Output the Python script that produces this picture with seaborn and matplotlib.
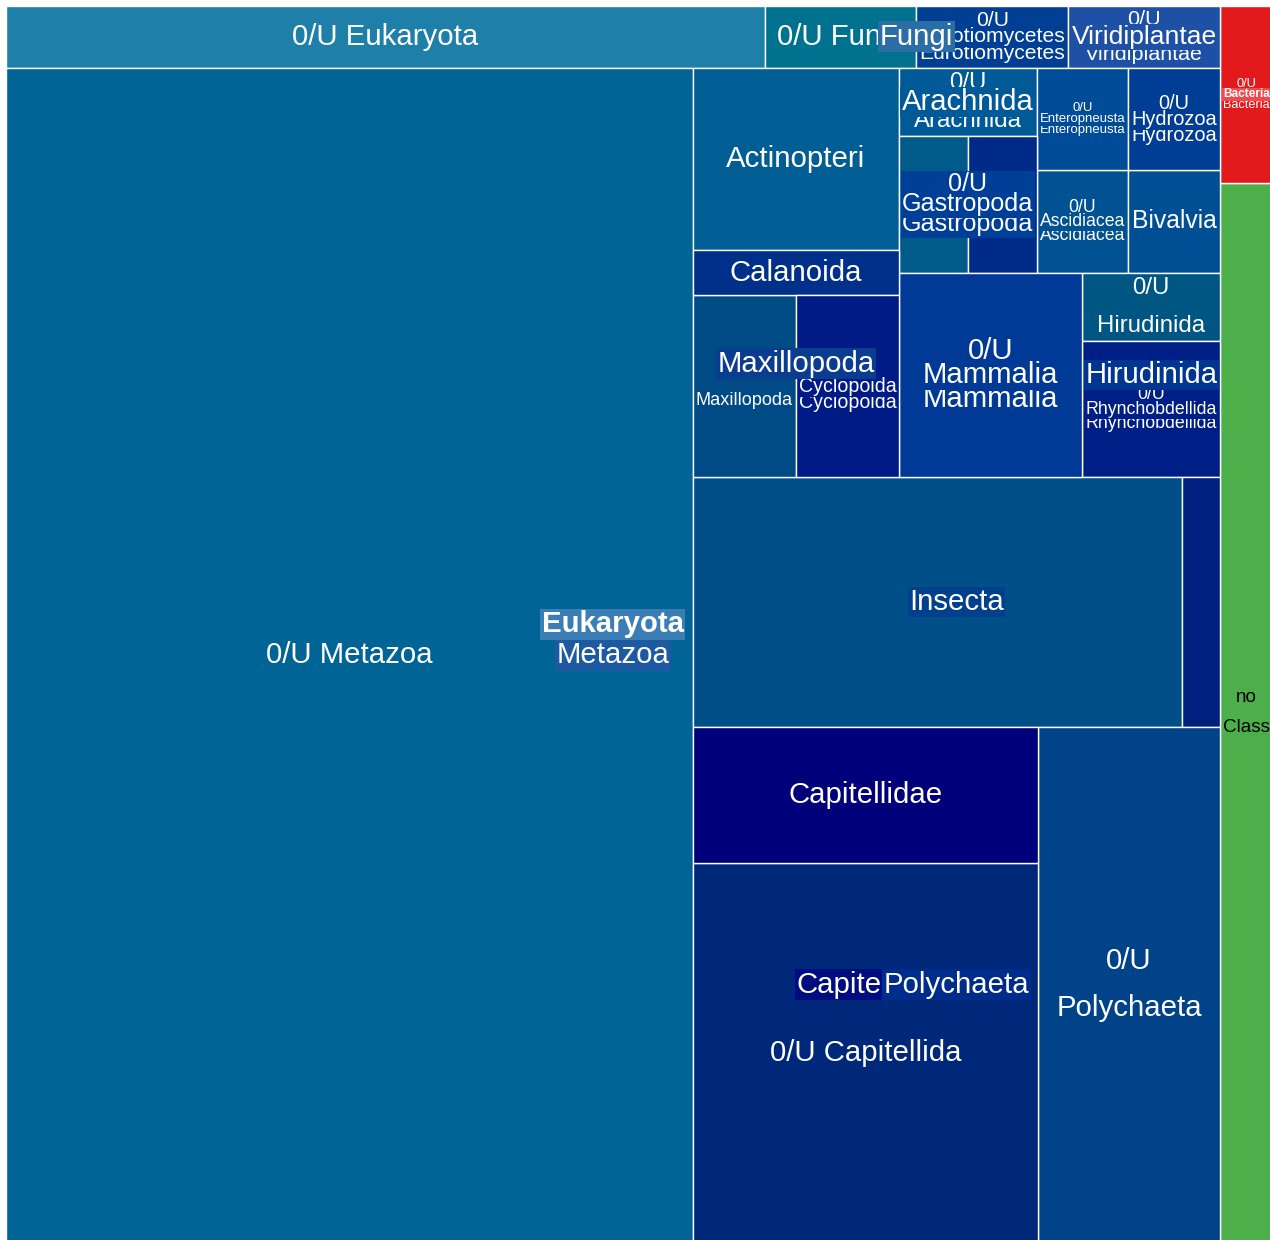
import matplotlib
matplotlib.use("Agg")
import matplotlib.pyplot as plt
import seaborn as sns
from matplotlib.patches import Rectangle
from matplotlib.font_manager import FontProperties
from matplotlib.colors import to_rgb

sns.set_theme(style="white")
plt.rcParams["font.family"] = ["Liberation Sans", "DejaVu Sans"]

# taxonomy tree, plotly style: ids / labels / parents / counts on leaves
ids = ["Eukaryota", "Bacteria", "no Class", "0/U Bacteria",
       "0/U Eukaryota", "Fungi", "Metazoa", "Viridiplantae",
       "0/U Fungi", "Eurotiomycetes", "0/U Eurotiomycetes", "0/U Viridiplantae",
       "0/U Metazoa", "Actinopteri", "Arachnida", "0/U Arachnida",
       "Ascidiacea", "0/U Ascidiacea", "Bivalvia", "Enteropneusta", "0/U Enteropneusta",
       "Gastropoda", "0/U Gastropoda", "Gastropoda-1", "Gastropoda-2",
       "Hirudinida", "0/U Hirudinida", "Rhynchobdellida", "0/U Rhynchobdellida",
       "Hydrozoa", "0/U Hydrozoa", "Insecta", "Insecta-1", "Insecta-2",
       "Mammalia", "0/U Mammalia", "Maxillopoda", "0/U Maxillopoda", "Calanoida",
       "Cyclopoida", "0/U Cyclopoida", "Polychaeta", "0/U Polychaeta",
       "Capitellida", "0/U Capitellida", "Capitellidae"]
labels = ["Eukaryota", "Bacteria", "no Class", "0/U Bacteria",
          "0/U Eukaryota", "Fungi", "Metazoa", "Viridiplantae",
          "0/U Fungi", "Eurotiomycetes", "0/U Eurotiomycetes", "0/U Viridiplantae",
          "0/U Metazoa", "Actinopteri", "Arachnida", "0/U Arachnida",
          "Ascidiacea", "0/U Ascidiacea", "Bivalvia", "Enteropneusta", "0/U Enteropneusta",
          "Gastropoda", "0/U Gastropoda", "", "",
          "Hirudinida", "0/U Hirudinida", "Rhynchobdellida", "0/U Rhynchobdellida",
          "Hydrozoa", "0/U Hydrozoa", "Insecta", "", "",
          "Mammalia", "0/U Mammalia", "Maxillopoda", "0/U Maxillopoda", "Calanoida",
          "Cyclopoida", "0/U Cyclopoida", "Polychaeta", "0/U Polychaeta",
          "Capitellida", "0/U Capitellida", "Capitellidae"]
parents = ["", "", "", "Bacteria",
           "Eukaryota", "Eukaryota", "Eukaryota", "Eukaryota",
           "Fungi", "Fungi", "Eurotiomycetes", "Viridiplantae",
           "Metazoa", "Metazoa", "Metazoa", "Arachnida",
           "Metazoa", "Ascidiacea", "Metazoa", "Metazoa", "Enteropneusta",
           "Metazoa", "Gastropoda", "0/U Gastropoda", "0/U Gastropoda",
           "Metazoa", "Hirudinida", "Hirudinida", "Rhynchobdellida",
           "Metazoa", "Hydrozoa", "Metazoa", "Insecta", "Insecta",
           "Metazoa", "Mammalia", "Metazoa", "Maxillopoda", "Maxillopoda",
           "Maxillopoda", "Cyclopoida", "Metazoa", "Polychaeta",
           "Polychaeta", "Capitellida", "Capitellida"]
values = [0, 0, 6, 1,
          5, 0, 0, 0,
          1, 0, 1, 1,
          86, 4, 0, 1,
          0, 1, 1, 0, 1,
          0, 0, 1, 1,
          0, 1, 0, 2,
          0, 1, 0, 13, 1,
          0, 4, 0, 2, 1,
          0, 2, 0, 10,
          0, 14, 5]

colors = {
    "Eukaryota": "#3b7eb6", "Bacteria": "#f0494b", "no Class": "#4daf4a",
    "0/U Bacteria": "#e31a1c", "0/U Eukaryota": "#1e7fa8",
    "Fungi": "#2b6ea6", "Metazoa": "#1d5aa2", "Viridiplantae": "#1e50a6",
    "0/U Fungi": "#007290", "Eurotiomycetes": "#003f94", "0/U Eurotiomycetes": "#003f94",
    "0/U Viridiplantae": "#1e50a6", "0/U Metazoa": "#006496", "Actinopteri": "#005e94",
    "Arachnida": "#005a98", "0/U Arachnida": "#005a98",
    "Ascidiacea": "#005292", "0/U Ascidiacea": "#005292", "Bivalvia": "#004f95",
    "Enteropneusta": "#004c98", "0/U Enteropneusta": "#004c98",
    "Gastropoda": "#003f98", "0/U Gastropoda": "#003f98",
    "Gastropoda-1": "#005a8a", "Gastropoda-2": "#002a88",
    "Hirudinida": "#00368f", "0/U Hirudinida": "#005682",
    "Rhynchobdellida": "#001f86", "0/U Rhynchobdellida": "#001f86",
    "Hydrozoa": "#003d95", "0/U Hydrozoa": "#003d95",
    "Insecta": "#00408c", "Insecta-1": "#004f88", "Insecta-2": "#002080",
    "Mammalia": "#003a96", "0/U Mammalia": "#003a96",
    "Maxillopoda": "#0a3d90", "0/U Maxillopoda": "#004a86", "Calanoida": "#00308a",
    "Cyclopoida": "#001a86", "0/U Cyclopoida": "#001a86",
    "Polychaeta": "#002c8c", "0/U Polychaeta": "#004388",
    "Capitellida": "#000d80", "0/U Capitellida": "#00287a", "Capitellidae": "#00007a",
}

# --- tree helpers
kids = {}
for i, p in zip(ids, parents):
    kids.setdefault(p, []).append(i)
val = dict(zip(ids, values))
depth = {}


def total(n, d):
    depth[n] = d
    if n in kids:
        val[n] = sum(total(c, d + 1) for c in kids[n])
    return val[n]


for c in kids[""]:
    total(c, 1)
rects = {}


def squarify(children, x0, y0, x1, y1):
    # d3 squarify (ratio 1), nodes sorted by value
    nodes = sorted(children, key=lambda n: -val[n])
    value = sum(val[n] for n in nodes)
    i0 = 0
    while i0 < len(nodes):
        dx, dy = x1 - x0, y1 - y0
        s = val[nodes[i0]]
        i1 = i0 + 1
        lo = hi = s
        alpha = max(dy / dx, dx / dy) / value
        beta = s * s * alpha
        best = max(hi / beta, beta / lo)
        while i1 < len(nodes):
            v = val[nodes[i1]]
            beta = (s + v) ** 2 * alpha
            r = max(max(hi, v) / beta, beta / min(lo, v))
            if r > best:
                break
            s, lo, hi, best = s + v, min(lo, v), max(hi, v), r
            i1 += 1
        if dx < dy:
            yn = y0 + dy * s / value
            xx = x0
            for n in nodes[i0:i1]:
                w = dx * val[n] / s
                rects[n] = (xx, y0, xx + w, yn)
                xx += w
            y0 = yn
        else:
            xn = x0 + dx * s / value
            yy = y0
            for n in nodes[i0:i1]:
                h = dy * val[n] / s
                rects[n] = (x0, yy, xn, yy + h)
                yy += h
            x0 = xn
        value -= s
        i0 = i1
    for n in nodes:
        if n in kids:
            squarify(kids[n], *rects[n])


# the treemap runs slightly past the right and bottom edges of the picture
W, H = 1267, 1237
squarify(kids[""], 0, 0, W, H)

fig = plt.figure(figsize=(12.7, 12.4), dpi=100)
ax = fig.add_axes([6 / 1270, -3 / 1240, W / 1270, H / 1240])
ax.set_xlim(0, W)
ax.set_ylim(0, H)
ax.set_axis_off()

for n in ids:
    if n in kids:
        continue
    x0, y0, x1, y1 = rects[n]
    ax.add_patch(Rectangle((x0, y0), x1 - x0, y1 - y0, facecolor=colors[n],
                           edgecolor="white", linewidth=1.0, zorder=1))

renderer = fig.canvas.get_renderer()
PAD, MAXPX, SPACING = 3, 29.4, 1.6
maxdepth = max(depth.values())


def props(size_px, bold):
    return FontProperties(family="Liberation Sans", size=size_px * 0.72,
                          weight="bold" if bold else "normal")


def fit(label, w, h, bold):
    prop = props(MAXPX, bold)

    def width(s):
        return renderer.get_text_width_height_descent(s, prop, ismath=False)[0]

    avail = w - 2 * PAD
    lines = [label]
    if width(label) > avail and " " in label:
        lines = label.split(" ", 1)
    fs = MAXPX * min(1, avail / max(width(s) for s in lines))
    fs = min(fs, (h - 2 * PAD) / (1 + SPACING * (len(lines) - 1)))
    return lines, fs


for n, lab in zip(ids, labels):
    if not lab:
        continue
    x0, y0, x1, y1 = rects[n]
    parent_node = n in kids
    bold = parent_node and depth[n] == 1
    lines, fs = fit(lab, x1 - x0, y1 - y0, bold)
    _, lh, ld = renderer.get_text_width_height_descent("lp", props(fs, bold), ismath=False)
    # baseline step in matplotlib = (lh - ld) * linespacing + ld
    ls = (SPACING * fs - ld) / (lh - ld)
    r, g, b = to_rgb(colors[n])
    tc = "black" if 0.299 * r + 0.587 * g + 0.114 * b > 0.5 else "white"
    z = 10 + 2 * (maxdepth - depth[n]) + (1 if parent_node else 0)
    box = dict(boxstyle="square,pad=0.05", facecolor=colors[n],
               edgecolor="none") if parent_node else None
    ax.text((x0 + x1) / 2, (y0 + y1) / 2, "\n".join(lines), ha="center", va="center",
            multialignment="center", linespacing=ls,
            fontproperties=props(fs, bold), color=tc, bbox=box, zorder=z)

fig.savefig("out.png", dpi=100, facecolor="white")
